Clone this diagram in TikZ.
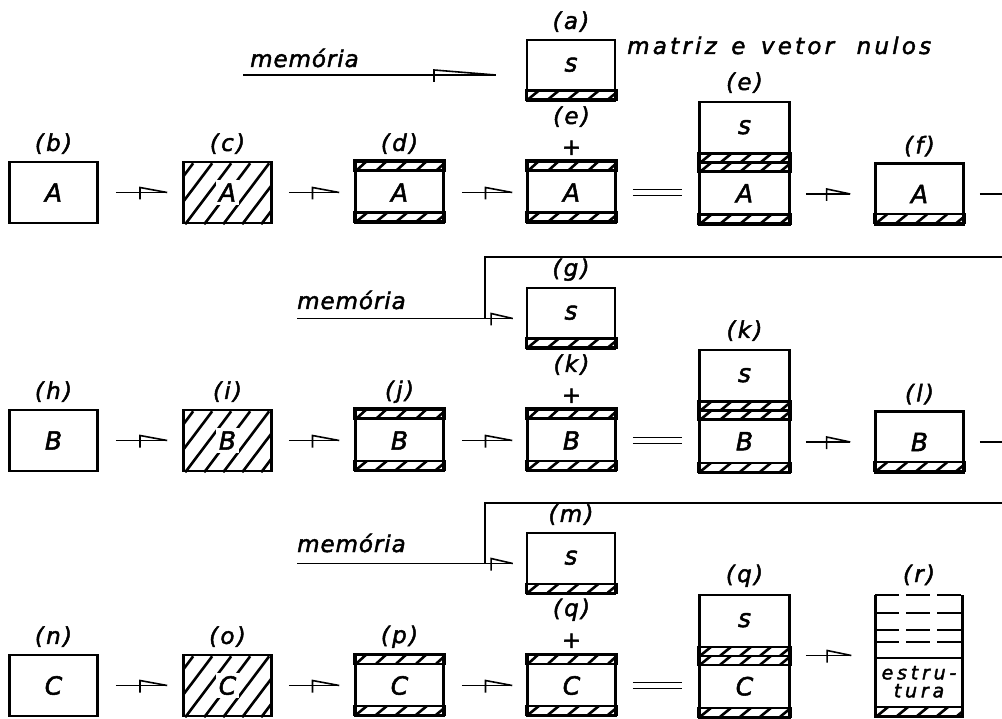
\documentclass[tikz,border=0pt]{standalone}
\usepackage{fontspec}
\usetikzlibrary{calc}
\newfontfamily\dvs[FakeBold=2]{DejaVu Sans}
\newcommand\ltxs[2][23]{\dvs\itshape\addfontfeature{LetterSpace=#2}\fontsize{#1}{#1}\selectfont}
\tikzset{
 bx/.style={draw, line width=2.6pt, minimum width=88pt, minimum height=61pt, inner sep=0pt, font={\ltxs[25]{4}}},
 tx/.style={inner sep=0pt, font={\ltxs[25]{4}}},
 lb/.style={inner sep=0pt, font=\ltxs{10}},
 ln/.style={line width=1.6pt},
 ht/.style={line width=2.6pt},
 dl/.style={line width=2.2pt, dash pattern=on 24pt off 7pt},
}
\newcommand\strip[3]{%
 \begin{scope}
  \clip ($(#1.north west)+(0,#2)$) rectangle ($(#1.north east)+(0,#2+#3)$);
  \foreach \k in {0,...,5}{\draw[ht] ($(#1.north west)+(2+20*\k,#2+#3)$) -- ++(11,-#3);}
 \end{scope}
 \draw[line width=2.4pt] ($(#1.north west)+(0,#2)$) rectangle ($(#1.north east)+(0,#2+#3)$);
}
\newcommand\flag[3]{\draw[ln] ($(#1)!#3!(#2)$) ++(0,7) -- ++(0,-12) -- (#2);}
\newcommand\farrow[5]{%
 \coordinate (#5s) at ($(#1.east |- #2.west)+(#3,0)$);
 \coordinate (#5e) at ($(#2.west)+(-#4,0)$);
 \draw[ln] (#5s) -- (#5e);
 \flag{#5s}{#5e}{0.47}
}
\newcommand\mainrow[8]{%
 \node[bx] (#2b) at (53.5,#1+30.5) {#3};
 \node[lb] at ($(#2b.north)+(0,-17)$) {(#4)};
 \node[bx] (#2c) at (227.5,#1+30.5) {};
 \begin{scope}
  \clip (#2c.south west) rectangle (#2c.north east);
  \foreach \k in {-2,...,4}{\draw[ht] ($(#2c.south west)+(3+19*\k,0)$) -- ++(46,-61);}
 \end{scope}
 \node[tx, fill=white, inner sep=3pt] at (#2c) {#3};
 \node[lb] at ($(#2c.north)+(0,-17)$) {(#5)};
 \node[bx] (#2d) at (399.5,#1+30.5) {#3};
 \strip{#2d}{0}{10}\strip{#2d}{52}{9}
 \node[lb] at ($(#2d.north)+(0,-17)$) {(#6)};
 \node[bx] (#2p) at (571.5,#1+30.5) {#3};
 \strip{#2p}{0}{10}\strip{#2p}{52}{9}
 \node[lb] at ($(#2p.north)+(0,-13)$) {+};
 \node[lb] at ($(#2p.north)+(0,-44)$) {(#7)};
 \node[bx, minimum width=90pt, minimum height=123pt] (#2q) at (744.5,#1+1.5) {};
 \strip{#2q}{53}{9}\strip{#2q}{62}{9}\strip{#2q}{114}{9}
 \node[tx] at ($(#2q.north)+(0,26.5)$) {s};
 \node[tx] at ($(#2q.north)+(0,92.5)$) {#3};
 \node[lb] at ($(#2q.north)+(0,-18)$) {(#7)};
 \node[bx] (#2m) at (571,#1-91.5) {};
 \strip{#2m}{52}{9}
 \node[tx] at ($(#2m.north)+(0,26)$) {s};
 \node[lb] at ($(#2m.north)+(0,-17)$) {(#8)};
 \farrow{#2b}{#2c}{17}{15}{#2aa}
 \farrow{#2c}{#2d}{16}{15}{#2ab}
 \farrow{#2d}{#2p}{17}{14}{#2ac}
 \draw[ln] ($(#2p.east)+(16,-3)$) -- ($(#2q.west |- #2p.east)+(-16,-3)$);
 \draw[ln] ($(#2p.east)+(16,3)$) -- ($(#2q.west |- #2p.east)+(-16,3)$);
}
\begin{document}
\begin{tikzpicture}[x=1pt,y=-1pt]
\useasboundingbox (0,0) rectangle (1002,719);
% ---------- row 1 ----------
\mainrow{162}{r1}{A}{b}{c}{d}{e}{a}
\node[anchor=base west, inner sep=0pt, font=\ltxs{14}] (txt1) at (627,54) {matriz\hspace{4pt} e\hspace{5pt} vetor\hspace{12pt} nulos};
\node[bx] (r1f) at (919.5,194) {A};
\strip{r1f}{52}{9}
\node[lb] at ($(r1f.north)+(0,-16)$) {(f)};
\farrow{r1q}{r1f}{15}{24}{r1ad}
\coordinate (r1out) at ($(r1f.east)+(39,0)$);
\draw[ln] ($(r1f.east)+(15,0)$) -- (r1out);
\node[anchor=base west, inner sep=0pt, font=\ltxs{4}] (mem1) at (250,67) {memória};
\coordinate (m1s) at (243,75);
\coordinate (m1e) at ($(r1m.west)+(-30,4.5)$);
\draw[ln] (m1s) -- (m1e);
\flag{m1s}{m1e}{0.756}
% ---------- row 2 ----------
\mainrow{410}{r2}{B}{h}{i}{j}{k}{g}
\node[bx] (r2f) at (919.5,442) {B};
\strip{r2f}{52}{9}
\node[lb] at ($(r2f.north)+(0,-16)$) {(l)};
\farrow{r2q}{r2f}{15}{24}{r2ad}
\coordinate (r2out) at ($(r2f.east)+(39,0)$);
\draw[ln] ($(r2f.east)+(15,0)$) -- (r2out);
\node[anchor=base west, inner sep=0pt, font=\ltxs{4}] (mem2) at (297,309) {memória};
\coordinate (m2s) at (297,318.5);
\coordinate (m2c) at (485,318.5);
\coordinate (m2t) at (485,257);
\coordinate (m2r) at (1002,257);
\coordinate (m2e) at ($(r2m.west)+(-13,0)$);
\draw[ln] (m2s) -- (m2e);
\draw[ln] (m2r) -- (m2t) -- (m2c);
\flag{m2s}{m2e}{0.9}
% ---------- row 3 ----------
\mainrow{655}{r3}{C}{n}{o}{p}{q}{m}
\node[inner sep=0pt, minimum width=87pt, minimum height=121pt] (r3r) at (919,655.5) {};
\draw[line width=2.6pt] (r3r.north west) -- (r3r.south west) -- (r3r.south east) -- (r3r.north east);
\draw[dl] (r3r.north west) -- (r3r.north east);
\foreach \d in {18,35,47}{\draw[dl] ($(r3r.north west)+(0,\d)$) -- ($(r3r.north east)+(0,\d)$);}
\draw[line width=2.6pt] ($(r3r.north west)+(0,63)$) -- ($(r3r.north east)+(0,63)$);
\strip{r3r}{112}{9}
\node[align=center, inner sep=0pt, font={\ltxs[19]{20}}] at ($(r3r.north)+(0,87)$) {estru-\\[-1pt]tura};
\node[lb] at ($(r3r.north)+(0,-20)$) {(r)};
\farrow{r3q}{r3r}{15}{24}{r3ad}
\node[anchor=base west, inner sep=0pt, font=\ltxs{4}] (mem3) at (297,552) {memória};
\coordinate (m3s) at (297,563.5);
\coordinate (m3c) at (485,563.5);
\coordinate (m3t) at (485,503);
\coordinate (m3r) at (1002,503);
\coordinate (m3e) at ($(r3m.west)+(-13,0)$);
\draw[ln] (m3s) -- (m3e);
\draw[ln] (m3r) -- (m3t) -- (m3c);
\flag{m3s}{m3e}{0.9}
\end{tikzpicture}
\end{document}
